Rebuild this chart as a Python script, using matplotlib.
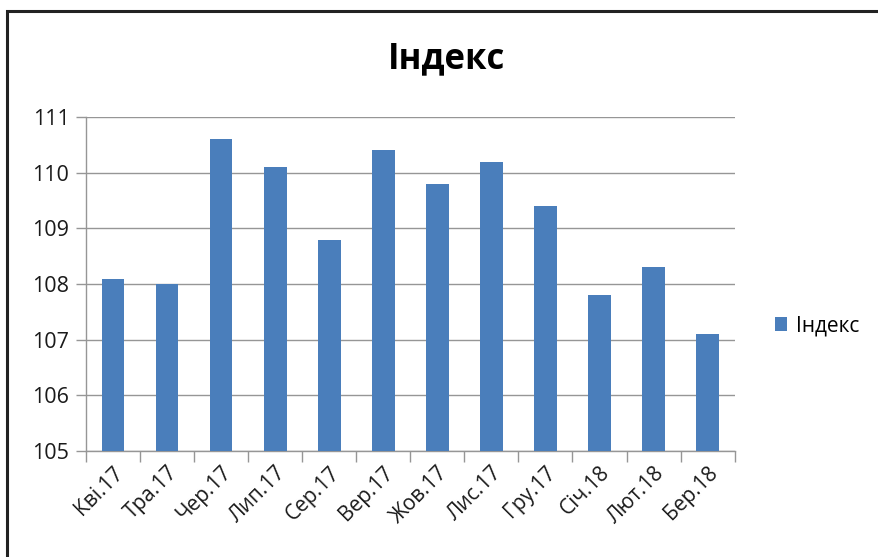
import matplotlib.pyplot as plt
from matplotlib.patches import Rectangle
import numpy as np

plt.rcParams['font.family'] = ['Open Sans', 'DejaVu Sans']

# дані
months = ['Кві.17', 'Тра.17', 'Чер.17', 'Лип.17', 'Сер.17', 'Вер.17',
          'Жов.17', 'Лис.17', 'Гру.17', 'Січ.18', 'Лют.18', 'Бер.18']
index_vals = [108.1, 108.0, 110.6, 110.1, 108.8, 110.4,
              109.8, 110.2, 109.4, 107.8, 108.3, 107.1]
y_ticks = [105, 106, 107, 108, 109, 110, 111]

bar_color = '#4A7EBB'
grid_color = '#969696'

fig = plt.figure(figsize=(8.79, 5.57), dpi=100)
ax = fig.add_axes([0.0978, 0.19, 0.738, 0.60])

x = np.arange(len(months))
ax.bar(x, index_vals, width=0.42, color=bar_color, label='Індекс', zorder=3)

ax.set_ylim(105, 111)
ax.set_xlim(-0.5, len(months) - 0.5)
ax.set_yticks(y_ticks)
ax.set_yticklabels([str(v) for v in y_ticks], fontsize=15.5, color='#1a1a1a')
ax.grid(axis='y', color=grid_color, lw=1, zorder=0)

# підписи по центру, риски між категоріями
ax.set_xticks(x)
ax.set_xticklabels(months, rotation=45, ha='right', rotation_mode='anchor',
                   fontsize=15, color='#1a1a1a')
ax.tick_params(axis='x', which='major', length=0, pad=8)
ax.set_xticks(np.arange(-0.5, len(months)), minor=True)
ax.tick_params(axis='x', which='minor', length=8, color=grid_color, width=1)
ax.tick_params(axis='y', length=7, color=grid_color, width=1, pad=5)

for s in ['top', 'right']:
    ax.spines[s].set_visible(False)
for s in ['left', 'bottom']:
    ax.spines[s].set_color(grid_color)
    ax.spines[s].set_linewidth(1)

fig.text(0.508, 0.893, 'Індекс', ha='center', va='center',
         fontsize=25, fontweight='bold', color='black')

leg = fig.legend(loc='center left', bbox_to_anchor=(0.86, 0.415), frameon=False,
                 fontsize=15, handlelength=0.6, handleheight=0.6, handletextpad=0.4)

# рамка діаграми
fig.patches.append(Rectangle((7 / 879, -0.1), 1.2, 1 - 11 / 557 + 0.1,
                             transform=fig.transFigure, fill=False,
                             edgecolor='#222222', lw=2.2))

fig.savefig('out.png', dpi=100)
